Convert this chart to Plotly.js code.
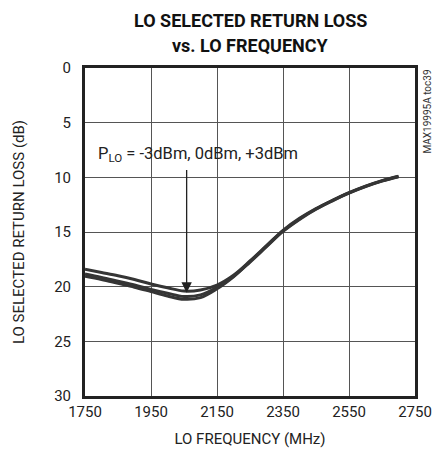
<!DOCTYPE html>
<html>
<head>
<meta charset="utf-8">
<script src="https://cdn.plot.ly/plotly-3.0.1.min.js"></script>
<style>html,body{margin:0;padding:0;background:#fff;}#chart{width:443px;height:459px;}</style>
</head>
<body>
<div id="chart"></div>
<script>
var freqMHz = [1750, 1800, 1850, 1900, 1950, 2000, 2050, 2100, 2150, 2200, 2250, 2300, 2350, 2400, 2450, 2500, 2550, 2600, 2650, 2700];
var rlMinus3dBm = [18.4, 18.7, 19.0, 19.35, 19.75, 20.1, 20.4, 20.3, 19.85, 18.95, 17.65, 16.25, 14.85, 13.75, 12.85, 12.1, 11.4, 10.8, 10.3, 9.9];
var rl0dBm      = [18.85, 19.15, 19.5, 19.85, 20.25, 20.6, 20.9, 20.75, 20.05, 19.05, 17.7, 16.3, 14.9, 13.8, 12.9, 12.12, 11.42, 10.82, 10.32, 9.92];
var rlPlus3dBm  = [19.05, 19.35, 19.7, 20.05, 20.45, 20.85, 21.15, 21.0, 20.2, 19.1, 17.75, 16.35, 14.95, 13.85, 12.92, 12.15, 11.45, 10.85, 10.35, 9.95];
var seriesNames = ["PLO = -3dBm", "PLO = 0dBm", "PLO = +3dBm"];
var xTicks = [1750, 1950, 2150, 2350, 2550, 2750];
var yTicks = [0, 5, 10, 15, 20, 25, 30];
var titleLines = ["LO SELECTED RETURN LOSS", "vs. LO FREQUENCY"];
var arrowFreq = 2058;

var fontNarrow = "'Liberation Sans Narrow', Roboto, Arial, sans-serif";
var series = [rlMinus3dBm, rl0dBm, rlPlus3dBm];
var traces = series.map(function (ys, i) {
  return {
    x: freqMHz, y: ys, name: seriesNames[i], type: 'scatter', mode: 'lines',
    line: {color: '#353535', width: 3, shape: 'spline', smoothing: 1},
    showlegend: false, hoverinfo: 'skip'
  };
});

var layout = {
  width: 443, height: 459,
  margin: {l: 85, r: 28, t: 68, b: 63},
  paper_bgcolor: '#fff', plot_bgcolor: '#fff',
  xaxis: {
    range: [1750, 2750], tickvals: xTicks, ticktext: xTicks.map(String),
    showgrid: true, gridcolor: '#555', gridwidth: 1,
    showline: true, mirror: true, linecolor: '#222', linewidth: 3,
    ticks: '', zeroline: false,
    tickfont: {family: fontNarrow, size: 15, color: '#222'},
    title: {text: 'LO FREQUENCY (MHz)', font: {family: fontNarrow, size: 15, color: '#222'}, standoff: 14}
  },
  yaxis: {
    range: [30, 0], tickvals: yTicks, ticktext: yTicks.map(String),
    showgrid: true, gridcolor: '#555', gridwidth: 1,
    showline: true, mirror: true, linecolor: '#222', linewidth: 3,
    ticks: '', zeroline: false,
    tickfont: {family: fontNarrow, size: 15, color: '#222'},
    ticklabelstandoff: 8,
    title: {text: 'LO SELECTED RETURN LOSS (dB)', font: {family: fontNarrow, size: 15, color: '#222'}, standoff: 26}
  },
  annotations: [
    {
      x: 0.5, y: 1.146, xref: 'paper', yref: 'paper', xanchor: 'center', yanchor: 'middle',
      showarrow: false, text: '<b>' + titleLines[0] + '</b>',
      font: {family: fontNarrow, size: 18, color: '#111'}
    },
    {
      x: 0.5, y: 1.068, xref: 'paper', yref: 'paper', xanchor: 'center', yanchor: 'middle',
      showarrow: false, text: '<b>' + titleLines[1] + '</b>',
      font: {family: fontNarrow, size: 18, color: '#111'}
    },
    {
      x: arrowFreq, y: 20.55, xref: 'x', yref: 'y',
      ax: arrowFreq, ay: 9.2, axref: 'x', ayref: 'y',
      showarrow: true, arrowhead: 2, arrowsize: 1.6, arrowwidth: 1.3, arrowcolor: '#222',
      text: ''
    },
    {
      x: 1783, y: 7.95, xref: 'x', yref: 'y', xanchor: 'left', yanchor: 'middle',
      showarrow: false,
      text: 'P<sub>LO</sub> = -3dBm, 0dBm, +3dBm',
      font: {family: fontNarrow, size: 16.5, color: '#222'}
    },
    {
      x: 1.035, y: 1.0, xref: 'paper', yref: 'paper', xanchor: 'center', yanchor: 'top',
      showarrow: false, textangle: -90,
      text: 'MAX19995A toc39',
      font: {family: fontNarrow, size: 10, color: '#333'}
    }
  ]
};

Plotly.newPlot('chart', traces, layout, {staticPlot: true, displayModeBar: false});
</script>
</body>
</html>
